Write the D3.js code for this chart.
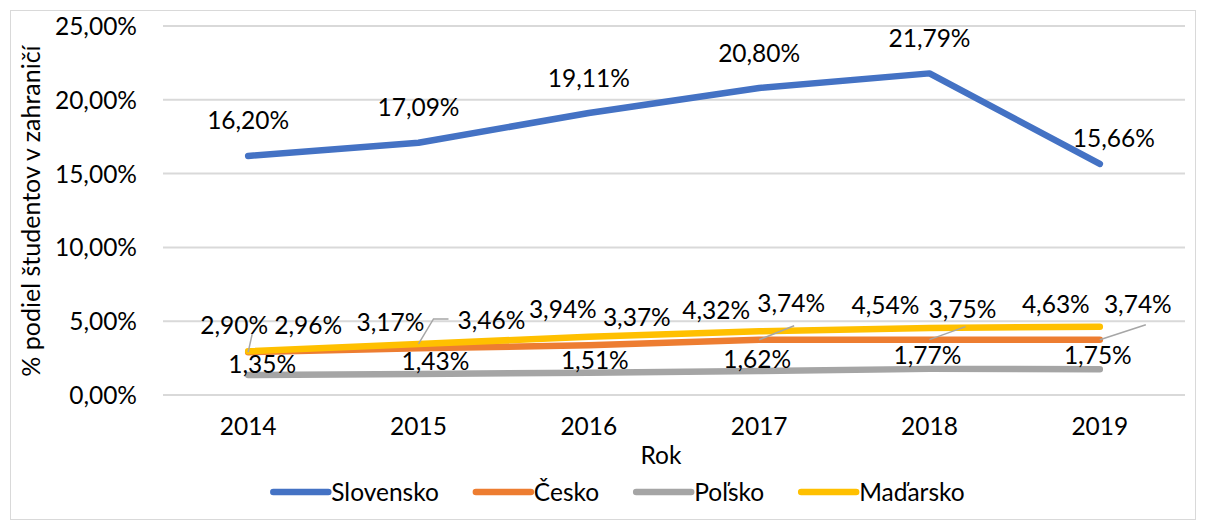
<!DOCTYPE html>
<html><head><meta charset="utf-8">
<script src="https://cdn.jsdelivr.net/npm/d3@7"></script>
<style>body{margin:0;background:#fff}svg{display:block}text{font-family:Lato,"Open Sans",sans-serif;fill:#000}</style>
</head><body><svg id="c" width="1206" height="526"></svg>
<script>
// ---- data ----
const years = ["2014","2015","2016","2017","2018","2019"];
const seriesNames = ["Slovensko","Česko","Poľsko","Maďarsko"];
const slovensko = [16.20,17.09,19.11,20.80,21.79,15.66];
const cesko     = [2.90,3.17,3.37,3.74,3.75,3.74];
const polsko    = [1.35,1.43,1.51,1.62,1.77,1.75];
const madarsko  = [2.96,3.46,3.94,4.32,4.54,4.63];
const yTicks = [0,5,10,15,20,25];
const yTitle = "% podiel študentov v zahraničí";
const xTitle = "Rok";

// ---- layout / style ----
const colors = ["#4472C4","#ED7D31","#A5A5A5","#FFC000"];
// label centre offsets relative to the data point
const labelOff = [
  [[0,-35],[0,-35],[0,-35],[0,-35],[0,-35],[14,-25]],
  [[-14,-27],[-28,-26],[48,-28],[32,-36],[33,-30],[38,-35]],
  [[14,-11],[17,-12],[6,-12],[-2,-12],[-2,-13],[-2,-14]],
  [[60,-26],[73,-24],[-26,-27],[-43,-21],[-44,-23],[-44,-22]]
];
// leader lines (series index, point index, polyline offsets from point)
const leaders = [
  [1,0,[[0,0],[4,-18]]],
  [3,1,[[0,0],[15,-25],[30,-25]]],
  [1,3,[[0,0],[35,-14]]],
  [1,4,[[0,0],[36,-13]]],
  [1,5,[[0,0],[46,-15]]]
];
const FS = 24.5;
const fmt = v => d3.format(".2f")(v).replace(".", ",") + "%";

const svg = d3.select("#c");
svg.append("rect").attr("x",10.5).attr("y",10.5).attr("width",1185).attr("height",509)
  .attr("fill","#fff").attr("stroke","#d9d9d9");

const x = d3.scaleBand().domain(years).range([163,1185]);
const y = d3.scaleLinear().domain([0,25]).range([395,26]);
const cx = d => x(d) + x.bandwidth()/2;

// grid
svg.append("g").selectAll("line").data(yTicks).join("line")
  .attr("x1",163).attr("x2",1185).attr("y1",d=>y(d)).attr("y2",d=>y(d))
  .attr("stroke","#d9d9d9").attr("stroke-width",2);

// y axis labels
const yAxis = d3.axisLeft(y).tickValues(yTicks).tickFormat(fmt).tickSize(0).tickPadding(0);
const gy = svg.append("g").attr("transform","translate(137,0)").call(yAxis);
gy.select(".domain").remove();
gy.selectAll("text").attr("font-size",FS).attr("dy","0.35em").style("font-family","Lato");

// x axis labels
const xAxis = d3.axisBottom(x).tickSize(0).tickPadding(0);
const gx = svg.append("g").attr("transform","translate(0,418)").call(xAxis);
gx.select(".domain").remove();
gx.selectAll("text").attr("font-size",FS).attr("dy","0.71em").style("font-family","Lato");

// titles
svg.append("text").attr("transform","translate(40,211) rotate(-90)").attr("text-anchor","middle")
  .attr("font-size",25).text(yTitle);
svg.append("text").attr("x",661).attr("y",464).attr("text-anchor","middle").attr("font-size",FS).text(xTitle);

// lines
const all = [slovensko,cesko,polsko,madarsko];
const line = d3.line().x((d,i)=>cx(years[i])).y(d=>y(d));
[0,1,2,3].forEach(s=>{
  svg.append("path").attr("d",line(all[s])).attr("fill","none").attr("stroke",colors[s])
    .attr("stroke-width",6.5).attr("stroke-linecap","round").attr("stroke-linejoin","round");
});

// leaders
leaders.forEach(([s,i,pts])=>{
  const px = cx(years[i]), py = y(all[s][i]);
  svg.append("polyline").attr("points",pts.map(p=>(px+p[0])+","+(py+p[1])).join(" "))
    .attr("fill","none").attr("stroke","#a6a6a6").attr("stroke-width",1.5);
});

// labels
all.forEach((vals,s)=>{
  svg.append("g").selectAll("text").data(vals).join("text")
    .attr("x",(d,i)=>cx(years[i])+labelOff[s][i][0])
    .attr("y",(d,i)=>y(d)+labelOff[s][i][1])
    .attr("dy","0.35em").attr("text-anchor","middle").attr("font-size",FS).text(fmt);
});

// legend
const lg = svg.append("g");
let lx = 0;
seriesNames.forEach((n,i)=>{
  const g = lg.append("g").attr("transform",`translate(${lx},0)`);
  g.append("line").attr("x1",0).attr("x2",55).attr("y1",0).attr("y2",0)
    .attr("stroke",colors[i]).attr("stroke-width",6.5).attr("stroke-linecap","round");
  const t = g.append("text").attr("x",58).attr("y",0).attr("dy","0.35em").attr("font-size",FS).text(n);
  lx += 58 + t.node().getComputedTextLength() + 37;
});
const lw = lx - 37;
lg.attr("transform",`translate(${619 - lw/2},492)`);
</script></body></html>
